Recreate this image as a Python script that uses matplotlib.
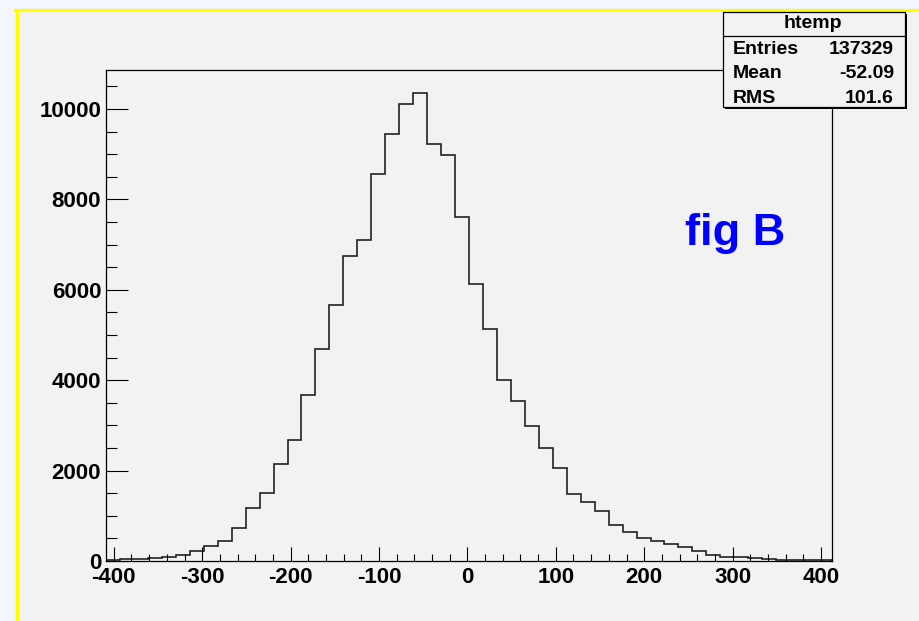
import numpy as np
import matplotlib.pyplot as plt
from matplotlib.patches import Rectangle
from matplotlib.lines import Line2D
from matplotlib.ticker import MultipleLocator

# htemp contents, 52 equal bins over the axis range
x_lo, x_hi = -408.8, 412.4
bin_counts = [
    25, 35, 45, 65, 85, 140, 225, 332, 449, 737,
    1165, 1515, 2146, 2670, 3679, 4689, 5665, 6740, 7107, 8554,
    9452, 10116, 10345, 9224, 8988, 7609, 6134, 5125, 3997, 3539,
    2993, 2493, 2064, 1482, 1312, 1106, 790, 641, 509, 449,
    383, 303, 221, 133, 95, 95, 73, 44, 30, 25,
    20, 15,
]
x_ticks = [-400, -300, -200, -100, 0, 100, 200, 300, 400]
y_ticks = [0, 2000, 4000, 6000, 8000, 10000]

stat_names = ["Entries", "Mean", "RMS"]
stat_values = ["137329", "-52.09", "101.6"]

W, H = 919, 621
pad_grey = "#f2f2f2"


def fx(px):
    return px / W


def fy(py):
    return 1 - py / H


plt.rcParams["font.family"] = ["Liberation Sans", "DejaVu Sans"]
plt.rcParams["axes.unicode_minus"] = False

fig = plt.figure(figsize=(W / 100, H / 100), dpi=100)
fig.patch.set_facecolor("#f3f7fd")

# canvas with a yellow edge on the left and top (kept below the axes)
fig.patches.append(Rectangle((fx(15), 0), 1 - fx(15), fy(8), transform=fig.transFigure,
                             facecolor=pad_grey, edgecolor="none", zorder=-2))
fig.lines.append(Line2D([fx(16.5), fx(16.5)], [0, fy(9.5)], transform=fig.transFigure,
                        color="#ffff00", lw=2.2, zorder=-1))
fig.lines.append(Line2D([fx(15), 1], [fy(9.5), fy(9.5)], transform=fig.transFigure,
                        color="#ffff00", lw=2.2, zorder=-1))

ax = fig.add_axes([fx(106), fy(561), fx(832) - fx(106), (561 - 69.5) / H])
ax.set_facecolor(pad_grey)

edges = np.linspace(x_lo, x_hi, len(bin_counts) + 1)
ax.stairs(bin_counts, edges, baseline=0, color="#222222", lw=1.2)

ax.set_xlim(x_lo, x_hi)
ax.set_ylim(0, 10874)

ax.set_xticks(x_ticks)
ax.set_yticks(y_ticks)
ax.xaxis.set_minor_locator(MultipleLocator(20))
ax.yaxis.set_minor_locator(MultipleLocator(500))

ax.tick_params(axis="x", which="major", direction="in", length=10, width=0.8,
               pad=4.5, labelsize=16, top=False)
ax.tick_params(axis="x", which="minor", direction="in", length=5, width=0.8, top=False)
ax.tick_params(axis="y", which="major", direction="in", length=15.8, width=0.8,
               pad=3.5, labelsize=16, right=False)
ax.tick_params(axis="y", which="minor", direction="in", length=7.9, width=0.8, right=False)
for lab in ax.get_xticklabels() + ax.get_yticklabels():
    lab.set_fontweight("bold")

for sp in ax.spines.values():
    sp.set_color("black")
    sp.set_linewidth(0.9)

# stats box
bx0, bx1, by0, by1 = 722.7, 905, 11.7, 107.3
fig.patches.append(Rectangle((fx(bx0 + 2), fy(by1 + 2)), fx(bx1) - fx(bx0), fy(by0) - fy(by1),
                             transform=fig.transFigure, facecolor="black",
                             edgecolor="none", zorder=5))
fig.patches.append(Rectangle((fx(bx0), fy(by1)), fx(bx1) - fx(bx0), fy(by0) - fy(by1),
                             transform=fig.transFigure, facecolor=pad_grey,
                             edgecolor="black", lw=0.9, zorder=6))
fig.lines.append(Line2D([fx(bx0), fx(bx1)], [fy(35.7), fy(35.7)], transform=fig.transFigure,
                        color="black", lw=0.9, zorder=7))
fig.text(fx(813), fy(23), "htemp", fontsize=14, fontweight="semibold",
         ha="center", va="center", zorder=8)
for i, (name, val) in enumerate(zip(stat_names, stat_values)):
    yc = fy(49.3 + i * 24.5)
    fig.text(fx(732.5), yc, name, fontsize=14, fontweight="bold", ha="left", va="center", zorder=8)
    fig.text(fx(894), yc, val, fontsize=14, fontweight="bold", ha="right", va="center", zorder=8)

fig.text(fx(685), fy(245), "fig B", fontsize=32.5, fontweight="bold", color="#0000ff",
         ha="left", va="baseline")

fig.savefig("out.png", dpi=100, facecolor=fig.get_facecolor())
